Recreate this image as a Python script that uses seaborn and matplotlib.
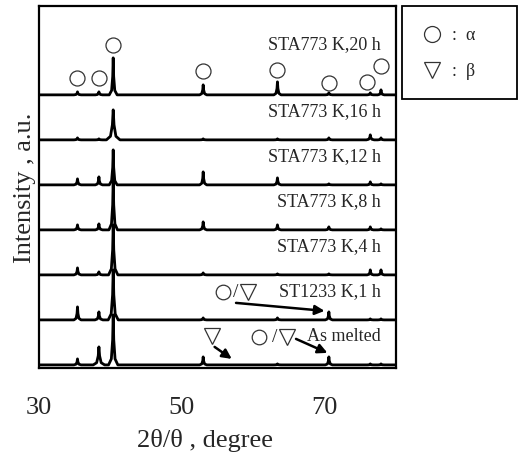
import matplotlib.pyplot as plt
import matplotlib.lines as mlines
import matplotlib.patches as mpatches
import seaborn as sns
import pandas as pd

# XRD patterns (peak heights in arbitrary units)
samples = ['STA773 K,20 h', 'STA773 K,16 h', 'STA773 K,12 h', 'STA773 K,8 h',
           'STA773 K,4 h', 'ST1233 K,1 h', 'As melted']
peak_angles = [35.4, 38.4, 40.4, 53.0, 63.4, 70.6, 76.4, 77.9]

h_20h = [3, 3, 37, 10, 13, 2, 2, 5]
h_16h = [2, 1, 30, 1, 1, 2, 5, 2]
h_12h = [6, 8, 35, 13, 7, 1, 3, 1]
h_8h = [5, 6, 50, 8, 5, 3, 3, 1]
h_4h = [7, 3, 50, 2, 1, 1, 5, 5]
h_1233 = [13, 8, 50, 2, 2, 8, 1, 1]
h_melted = [6, 18, 50, 8, 1, 8, 1, 1]
heights = [h_20h, h_16h, h_12h, h_8h, h_4h, h_1233, h_melted]

w_20h = [0.5, 0.5, 0.55, 0.5, 0.5, 0.5, 0.45, 0.45]
w_16h = [0.5, 0.5, 0.95, 0.5, 0.5, 0.5, 0.55, 0.45]
w_12h = [0.5, 0.5, 0.55, 0.5, 0.5, 0.5, 0.45, 0.45]
w_8h = [0.5, 0.5, 0.6, 0.5, 0.5, 0.5, 0.45, 0.45]
w_4h = [0.5, 0.5, 0.65, 0.5, 0.5, 0.5, 0.45, 0.45]
w_1233 = [0.5, 0.55, 0.7, 0.5, 0.5, 0.5, 0.45, 0.45]
w_melted = [0.5, 0.8, 0.65, 0.5, 0.5, 0.5, 0.45, 0.45]
widths = [w_20h, w_16h, w_12h, w_8h, w_4h, w_1233, w_melted]

# build long table: each peak drawn as a sharp spike on a flat baseline
rows = []
for i, name in enumerate(samples):
    offset = 3 + 45 * (len(samples) - 1 - i)
    pts = [(30.0, 0.0), (80.0, 0.0)]
    for p, h, w in zip(peak_angles, heights[i], widths[i]):
        pts += [(p - w, 0), (p - 0.4 * w, 0.12 * h), (p - 0.12 * w, 0.5 * h), (p, h),
                (p + 0.12 * w, 0.5 * h), (p + 0.4 * w, 0.12 * h), (p + w, 0)]
    for x, y in sorted(pts):
        rows.append({'angle': x, 'intensity': y + offset, 'sample': name})
df = pd.DataFrame(rows)

sns.set_style('white')
plt.rcParams['font.family'] = ['Liberation Serif', 'DejaVu Sans']

fig = plt.figure(figsize=(5.19, 4.56), dpi=100)
ax = fig.add_axes([0.075, 0.191, 0.688, 0.794])

sns.lineplot(data=df, x='angle', y='intensity', units='sample', estimator=None,
             sort=False, color='black', lw=2.0, ax=ax)

ax.set_xlim(30, 80)
ax.set_ylim(0, 362)
ax.set_xticks([30, 50, 70])
ax.set_yticks([])
ax.tick_params(axis='x', direction='in', length=5, width=1.2, pad=20, labelsize=19)
for s in ax.spines.values():
    s.set_linewidth(1.6)
    s.set_color('black')

ax.set_xlabel('2θ/θ , degree', fontsize=19)
ax.xaxis.set_label_coords(0.465, -0.165)
ax.set_ylabel('Intensity , a.u.', fontsize=19)
ax.yaxis.set_label_coords(-0.008, 0.5)

# sample labels
for i, name in enumerate(samples):
    offset = 3 + 45 * (len(samples) - 1 - i)
    lift = 51 if i == 0 else 29
    ax.text(77.85, offset + lift, name, ha='right', va='center', fontsize=13)

# alpha markers above the 20 h peaks
top = 3 + 45 * (len(samples) - 1)
lifts = [14, 14, 13, 14, 12, 10, 11, 24]
nudge = [0, 0, 0, 0, 0, 0, -0.5, 0]
for p, h, l, n in zip(peak_angles, h_20h, lifts, nudge):
    ax.plot(p + n, top + h + l, marker='o', ms=10.8, mfc='none', mec='#333333',
            mew=0.9, clip_on=False)

sym = dict(mfc='none', mec='#333333', mew=0.9, clip_on=False)
ax.plot(55.8, 76, marker='o', ms=10.5, **sym)
ax.text(57.6, 76, '/', ha='center', va='center', fontsize=14)
ax.plot(59.3, 76, marker='v', ms=11.5, **sym)
ax.plot(54.3, 32, marker='v', ms=11.5, **sym)
ax.plot(60.8, 31, marker='o', ms=10.5, **sym)
ax.text(63.0, 31, '/', ha='center', va='center', fontsize=14)
ax.plot(64.8, 31, marker='v', ms=11.5, **sym)

arrow = dict(arrowstyle='-|>', lw=1.8, color='black', mutation_scale=14,
             shrinkA=0, shrinkB=0)
ax.annotate('', xy=(70.0, 57), xytext=(57.6, 65), arrowprops=arrow)
ax.annotate('', xy=(57.0, 9), xytext=(54.6, 21), arrowprops=arrow)
ax.annotate('', xy=(70.4, 15), xytext=(66.0, 29), arrowprops=arrow)

# legend box outside the axes
fig.add_artist(mpatches.Rectangle((0.7746, 0.781), 0.222, 0.204, fill=False,
                                  lw=1.3, ec='black', transform=fig.transFigure))
fig.add_artist(mlines.Line2D([432 / 519], [1 - 35 / 456], marker='o', ms=11.5,
                             mfc='none', mec='#333333', mew=0.9,
                             transform=fig.transFigure))
fig.add_artist(mlines.Line2D([432 / 519], [1 - 71 / 456], marker='v', ms=12,
                             mfc='none', mec='#333333', mew=0.9,
                             transform=fig.transFigure))
fig.text(452 / 519, 1 - 35 / 456, ':  α', ha='left', va='center', fontsize=13)
fig.text(452 / 519, 1 - 72 / 456, ':  β', ha='left', va='center', fontsize=13)

fig.savefig('out.png', dpi=100)
